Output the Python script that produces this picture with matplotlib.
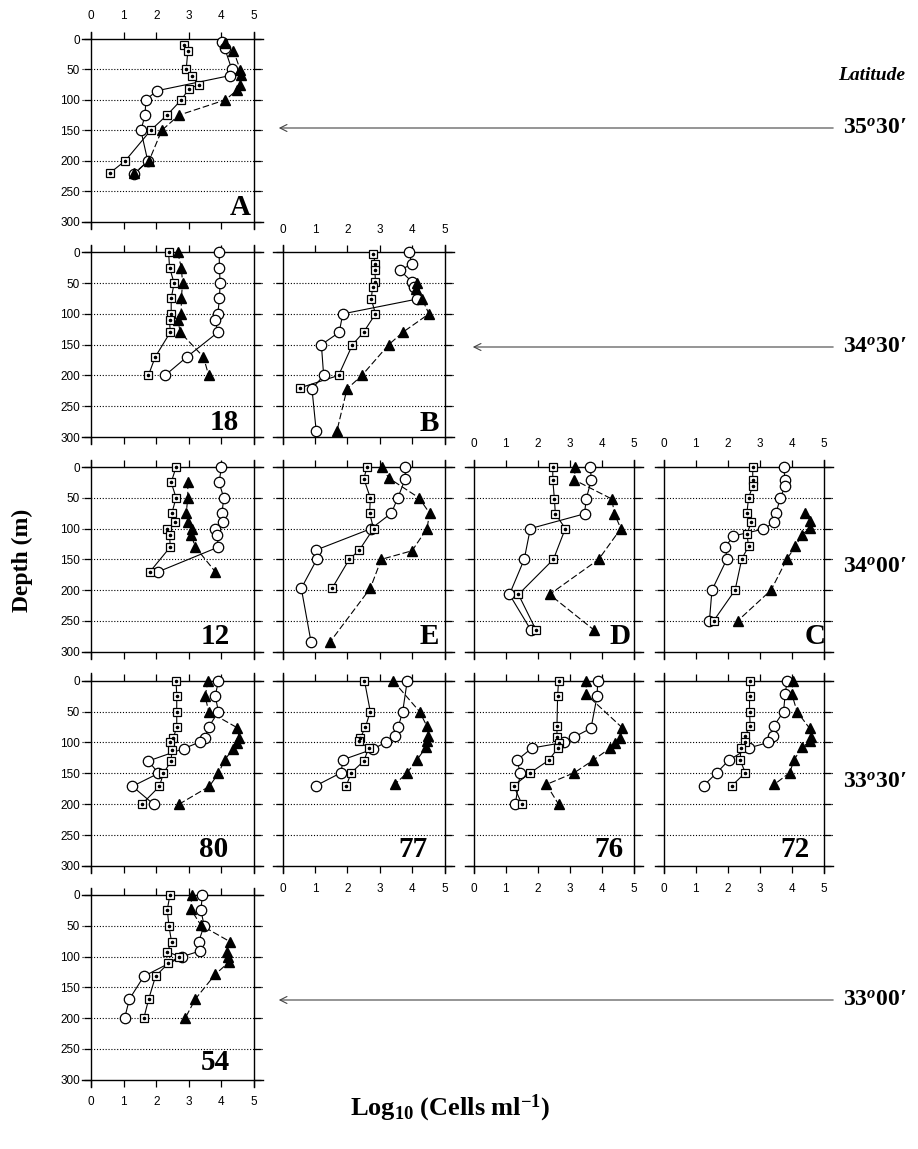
import matplotlib
matplotlib.use("Agg")
import matplotlib.pyplot as plt
from matplotlib.patches import FancyArrowPatch

plt.rcParams['mathtext.fontset'] = 'custom'
plt.rcParams['mathtext.rm'] = 'Liberation Serif:bold'
plt.rcParams['mathtext.bf'] = 'Liberation Serif:bold'
plt.rcParams['mathtext.it'] = 'Liberation Serif:italic:bold'

# ---------------- data (log10 cells/ml vs depth m) ----------------
# series: sq = open squares with dot, ci = open circles, tr = filled triangles
A_sq_d = [10, 20, 50, 60, 75, 82, 100, 125, 150, 200, 220]
A_sq_v = [2.85, 2.97, 2.92, 3.1, 3.3, 3.0, 2.77, 2.33, 1.83, 1.05, 0.58]
A_ci_d = [5, 15, 50, 60, 85, 100, 125, 150, 200, 222]
A_ci_v = [4.02, 4.1, 4.32, 4.27, 2.02, 1.68, 1.66, 1.53, 1.74, 1.33]
A_tr_d = [7, 19, 51, 59, 75, 84, 100, 125, 150, 200, 220]
A_tr_v = [4.12, 4.37, 4.58, 4.6, 4.58, 4.48, 4.12, 2.7, 2.17, 1.78, 1.33]

S18_sq_d = [0, 25, 50, 75, 100, 110, 130, 170, 200]
S18_sq_v = [2.38, 2.41, 2.55, 2.46, 2.46, 2.41, 2.43, 1.97, 1.76]
S18_ci_d = [0, 25, 50, 75, 100, 110, 130, 170, 200]
S18_ci_v = [3.93, 3.94, 3.96, 3.94, 3.89, 3.81, 3.89, 2.94, 2.27]
S18_tr_d = [0, 25, 50, 75, 100, 110, 130, 170, 200]
S18_tr_v = [2.66, 2.77, 2.81, 2.77, 2.77, 2.66, 2.74, 3.45, 3.61]

B_sq_d = [2, 19, 29, 48, 57, 76, 100, 130, 150, 200, 220]
B_sq_v = [2.79, 2.87, 2.85, 2.87, 2.78, 2.74, 2.87, 2.5, 2.16, 1.73, 0.55]
B_ci_d = [0, 19, 29, 48, 57, 76, 100, 130, 150, 200, 222, 290]
B_ci_v = [3.9, 4.0, 3.62, 4.0, 4.05, 4.15, 1.86, 1.75, 1.2, 1.27, 0.91, 1.04]
B_tr_d = [50, 59, 76, 100, 130, 150, 200, 222, 290]
B_tr_v = [4.15, 4.13, 4.31, 4.52, 3.71, 3.28, 2.45, 1.99, 1.68]

S12_sq_d = [0, 25, 50, 75, 90, 100, 110, 130, 170]
S12_sq_v = [2.61, 2.46, 2.61, 2.48, 2.58, 2.33, 2.41, 2.43, 1.81]
S12_ci_d = [0, 25, 50, 75, 90, 100, 110, 130, 170]
S12_ci_v = [4.0, 3.93, 4.07, 4.02, 4.04, 3.79, 3.86, 3.91, 2.07]
S12_tr_d = [25, 50, 75, 90, 100, 110, 130, 170]
S12_tr_v = [2.97, 2.97, 2.92, 2.97, 3.11, 3.07, 3.2, 3.81]

E_sq_d = [0, 19, 50, 75, 100, 135, 150, 197]
E_sq_v = [2.61, 2.51, 2.71, 2.69, 2.81, 2.37, 2.06, 1.53]
E_ci_d = [0, 19, 50, 75, 100, 135, 150, 197, 284]
E_ci_v = [3.79, 3.79, 3.56, 3.36, 2.74, 1.03, 1.06, 0.58, 0.88]
E_tr_d = [0, 18, 50, 75, 100, 136, 150, 197, 284]
E_tr_v = [3.07, 3.28, 4.21, 4.54, 4.46, 4.0, 3.05, 2.71, 1.47]

D_sq_d = [0, 21, 52, 76, 100, 150, 207, 265]
D_sq_v = [2.47, 2.47, 2.52, 2.55, 2.86, 2.49, 1.4, 1.95]
D_ci_d = [0, 21, 52, 76, 100, 150, 207, 265]
D_ci_v = [3.64, 3.67, 3.51, 3.46, 1.77, 1.58, 1.12, 1.79]
D_tr_d = [0, 21, 52, 76, 100, 150, 207, 265]
D_tr_v = [3.17, 3.14, 4.31, 4.39, 4.59, 3.9, 2.37, 3.76]

C_sq_d = [0, 21, 31, 50, 74, 90, 109, 129, 149, 200, 250]
C_sq_v = [2.78, 2.78, 2.78, 2.65, 2.6, 2.73, 2.6, 2.65, 2.44, 2.23, 1.56]
C_ci_d = [0, 21, 31, 50, 74, 90, 101, 112, 130, 149, 200, 250]
C_ci_v = [3.74, 3.79, 3.79, 3.64, 3.51, 3.45, 3.1, 2.18, 1.92, 1.98, 1.51, 1.43]
C_tr_d = [75, 87, 99, 110, 129, 149, 200, 250]
C_tr_v = [4.42, 4.55, 4.57, 4.31, 4.11, 3.85, 3.35, 2.31]

S80_sq_d = [0, 25, 50, 75, 92, 99, 112, 130, 150, 171, 200]
S80_sq_v = [2.61, 2.63, 2.63, 2.63, 2.53, 2.43, 2.48, 2.46, 2.22, 2.1, 1.56]
S80_ci_d = [0, 25, 50, 75, 92, 99, 110, 130, 150, 171, 200]
S80_ci_v = [3.91, 3.81, 3.91, 3.61, 3.5, 3.35, 2.84, 1.76, 2.07, 1.27, 1.92]
S80_tr_d = [0, 25, 50, 76, 93, 101, 110, 128, 150, 171, 200]
S80_tr_v = [3.59, 3.5, 3.61, 4.48, 4.55, 4.48, 4.37, 4.1, 3.91, 3.63, 2.7]

S77_sq_d = [0, 50, 75, 93, 98, 109, 130, 149, 170]
S77_sq_v = [2.53, 2.71, 2.56, 2.4, 2.35, 2.66, 2.51, 2.12, 1.97]
S77_ci_d = [0, 50, 75, 90, 100, 111, 128, 149, 170]
S77_ci_v = [3.85, 3.71, 3.57, 3.48, 3.18, 2.78, 1.86, 1.81, 1.03]
S77_tr_d = [0, 50, 74, 90, 98, 108, 128, 149, 168]
S77_tr_v = [3.41, 4.23, 4.46, 4.49, 4.46, 4.43, 4.15, 3.85, 3.46]

S76_sq_d = [0, 25, 74, 91, 101, 109, 129, 149, 170, 200]
S76_sq_v = [2.65, 2.62, 2.6, 2.6, 2.65, 2.63, 2.34, 1.77, 1.25, 1.51]
S76_ci_d = [0, 25, 77, 91, 100, 109, 129, 149, 200]
S76_ci_v = [3.87, 3.85, 3.66, 3.14, 2.81, 1.82, 1.35, 1.46, 1.3]
S76_tr_d = [0, 22, 76, 93, 101, 109, 129, 149, 168, 200]
S76_tr_v = [3.51, 3.51, 4.63, 4.57, 4.42, 4.26, 3.72, 3.14, 2.27, 2.65]

S72_sq_d = [0, 25, 50, 74, 89, 100, 109, 129, 149, 170]
S72_sq_v = [2.68, 2.68, 2.68, 2.7, 2.53, 2.53, 2.41, 2.39, 2.55, 2.13]
S72_ci_d = [0, 22, 50, 74, 90, 100, 109, 129, 149, 170]
S72_ci_v = [3.85, 3.79, 3.74, 3.43, 3.41, 3.27, 2.65, 2.03, 1.66, 1.25]
S72_tr_d = [0, 22, 50, 77, 91, 98, 108, 128, 149, 168]
S72_tr_v = [4.03, 4.0, 4.16, 4.55, 4.59, 4.57, 4.31, 4.07, 3.93, 3.45]

S54_sq_d = [0, 24, 50, 76, 92, 100, 111, 132, 169, 200]
S54_sq_v = [2.42, 2.34, 2.39, 2.47, 2.34, 2.71, 2.37, 1.98, 1.77, 1.62]
S54_ci_d = [0, 24, 50, 76, 91, 100, 132, 169, 200]
S54_ci_v = [3.42, 3.37, 3.47, 3.3, 3.34, 2.8, 1.62, 1.18, 1.03]
S54_tr_d = [0, 23, 49, 76, 92, 100, 109, 129, 169, 200]
S54_tr_v = [3.09, 3.06, 3.37, 4.27, 4.16, 4.19, 4.23, 3.81, 3.2, 2.89]

panel_names = ['A', '18', 'B', '12', 'E', 'D', 'C', '80', '77', '76', '72', '54']
x_ticks = [0, 1, 2, 3, 4, 5]
y_ticks = [0, 50, 100, 150, 200, 250, 300]
lat_labels = ['35', '34', '34', '33', '33']
lat_minutes = ['30', '30', '00', '30', '00']

series = {
    'A': (A_sq_d, A_sq_v, A_ci_d, A_ci_v, A_tr_d, A_tr_v),
    '18': (S18_sq_d, S18_sq_v, S18_ci_d, S18_ci_v, S18_tr_d, S18_tr_v),
    'B': (B_sq_d, B_sq_v, B_ci_d, B_ci_v, B_tr_d, B_tr_v),
    '12': (S12_sq_d, S12_sq_v, S12_ci_d, S12_ci_v, S12_tr_d, S12_tr_v),
    'E': (E_sq_d, E_sq_v, E_ci_d, E_ci_v, E_tr_d, E_tr_v),
    'D': (D_sq_d, D_sq_v, D_ci_d, D_ci_v, D_tr_d, D_tr_v),
    'C': (C_sq_d, C_sq_v, C_ci_d, C_ci_v, C_tr_d, C_tr_v),
    '80': (S80_sq_d, S80_sq_v, S80_ci_d, S80_ci_v, S80_tr_d, S80_tr_v),
    '77': (S77_sq_d, S77_sq_v, S77_ci_d, S77_ci_v, S77_tr_d, S77_tr_v),
    '76': (S76_sq_d, S76_sq_v, S76_ci_d, S76_ci_v, S76_tr_d, S76_tr_v),
    '72': (S72_sq_d, S72_sq_v, S72_ci_d, S72_ci_v, S72_tr_d, S72_tr_v),
    '54': (S54_sq_d, S54_sq_v, S54_ci_d, S54_ci_v, S54_tr_d, S54_tr_v),
}

# ---------------- layout ----------------
W, H = 918, 1149
fig = plt.figure(figsize=(W / 100, H / 100), dpi=100)

col_x0 = [91, 282.5, 473.5, 663.5]      # pixel of x=0
col_unit = [32.6, 32.4, 32.1, 32.1]     # pixels per log unit
row_y0 = [39, 252.3, 467, 680.7, 895]   # pixel of depth 0
row_y300 = [221.7, 437, 651.7, 866, 1079.7]

# (row, col, top labels, bottom labels, ylabels, label pos)
grid = {
    'A': (0, 0, True, False, True, (4.9, 289)),
    '18': (1, 0, False, False, True, (4.55, 288)),
    'B': (1, 1, True, False, False, (4.82, 290)),
    '12': (2, 0, False, False, True, (4.27, 287)),
    'E': (2, 1, False, False, False, (4.82, 288)),
    'D': (2, 2, True, False, False, (4.9, 288)),
    'C': (2, 3, True, False, False, (5.05, 288)),
    '80': (3, 0, False, False, True, (4.22, 285)),
    '77': (3, 1, False, True, False, (4.49, 285)),
    '76': (3, 2, False, True, False, (4.68, 285)),
    '72': (3, 3, False, True, False, (4.55, 285)),
    '54': (4, 0, False, True, True, (4.25, 285)),
}

XL, XR = -0.28, 5.28
YT, YB = -12, 312

for name in panel_names:
    r, c, top_lab, bot_lab, ylab, lpos = grid[name]
    u = col_unit[c]
    v = (row_y300[r] - row_y0[r]) / 300.0
    left_px = col_x0[c] + XL * u
    width_px = (XR - XL) * u
    top_px = row_y0[r] + YT * v
    height_px = (YB - YT) * v
    ax = fig.add_axes([left_px / W, 1 - (top_px + height_px) / H, width_px / W, height_px / H])
    ax.set_xlim(XL, XR)
    ax.set_ylim(YB, YT)
    ax.patch.set_alpha(0)

    for s in ['left', 'right', 'top', 'bottom']:
        ax.spines[s].set_linewidth(1.0)
    ax.spines['left'].set_position(('data', 0))
    ax.spines['right'].set_position(('data', 5))
    ax.spines['top'].set_position(('data', 0))
    ax.spines['bottom'].set_position(('data', 300))

    for gy in [50, 100, 150, 200, 250]:
        ax.axhline(gy, color='black', lw=0.8, ls=(0, (1, 1.6)), zorder=1)

    ax.set_xticks(x_ticks)
    ax.set_yticks(y_ticks)
    ax.tick_params(axis='x', which='both', direction='out', length=5, width=0.9,
                   top=True, bottom=True, labeltop=top_lab, labelbottom=bot_lab,
                   labelsize=8.5, pad=7)
    ax.tick_params(axis='y', which='both', direction='out', length=5, width=0.9,
                   left=True, right=True, labelleft=ylab, labelright=False,
                   labelsize=8.5, pad=3)
    for lab in ax.get_xticklabels() + ax.get_yticklabels():
        lab.set_fontfamily('Liberation Sans')

    sq_d, sq_v, ci_d, ci_v, tr_d, tr_v = series[name]
    ax.plot(tr_v, tr_d, color='black', lw=0.8, ls=(0, (6, 2.5)), zorder=2)
    ax.plot(sq_v, sq_d, color='black', lw=0.8, zorder=2)
    ax.plot(ci_v, ci_d, color='black', lw=0.8, zorder=2)
    ax.plot(tr_v, tr_d, ls='none', marker='^', ms=7.5, mfc='black', mec='black', zorder=4)
    ax.plot(ci_v, ci_d, ls='none', marker='o', ms=7.5, mfc='white', mec='black', mew=0.9, zorder=3)
    ax.plot(sq_v, sq_d, ls='none', marker='s', ms=5.2, mfc='white', mec='black', mew=0.9, zorder=5)
    ax.plot(sq_v, sq_d, ls='none', marker='o', ms=1.6, mfc='black', mec='black', zorder=6)

    ax.text(lpos[0], lpos[1], name, ha='right', va='baseline', fontsize=21,
            fontfamily='Liberation Serif', fontweight='bold', zorder=7)

# ---------------- annotations ----------------
serif = 'Liberation Serif'
fig.text(22 / W, 1 - 560 / H, 'Depth (m)', rotation=90, ha='center', va='center',
         fontsize=17, fontfamily=serif, fontweight='bold')
fig.text(450 / W, 1 - 1108 / H, r'Log$_{\mathbf{10}}$ (Cells ml$^{\mathbf{-1}}$)',
         ha='center', va='center', fontsize=19, fontfamily=serif, fontweight='bold')

fig.text(905 / W, 1 - 75 / H, 'Latitude', ha='right', va='center', fontsize=14,
         fontfamily=serif, fontweight='bold', fontstyle='italic')

lat_y = [128, 347, 567, 782, 1000]
for deg, mnt, yy in zip(lat_labels, lat_minutes, lat_y):
    fig.text(907 / W, 1 - yy / H, r'$\mathit{' + deg + r'}^{\mathit{o}}\mathit{' + mnt + r'}$' + '\u2032',
             ha='right', va='center', fontsize=17, fontfamily=serif,
             fontweight='bold', fontstyle='italic')

arrows = [(128, 276), (347, 470), (1000, 276)]
for yy, xh in arrows:
    arr = FancyArrowPatch((836 / W, 1 - yy / H), (xh / W, 1 - yy / H),
                          transform=fig.transFigure, arrowstyle='->,head_length=5,head_width=2.5',
                          color='#444444', lw=0.8, mutation_scale=1)
    fig.patches.append(arr)

fig.savefig('out.png', dpi=100)
